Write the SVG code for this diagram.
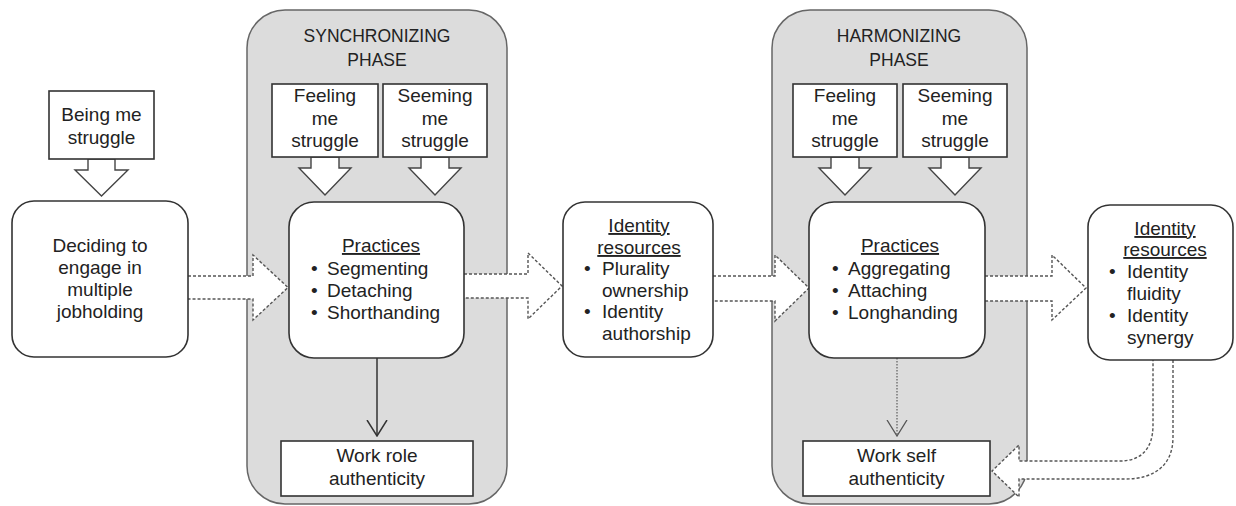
<svg xmlns="http://www.w3.org/2000/svg" width="1236" height="506" viewBox="0 0 1236 506">
<style>
text{font-family:"Liberation Sans",Arial,sans-serif;font-size:19px;fill:#222;}
.title{font-size:17.5px;text-anchor:middle;}
.c{text-anchor:middle;}
.u{text-decoration:underline;}
.panel{fill:#dcdcdc;stroke:#666;stroke-width:1.5;}
.box{fill:#fff;stroke:#333;stroke-width:1.6;}
.hollow{fill:#fff;stroke:#444;stroke-width:1.4;stroke-linejoin:miter;}
.dash{fill:#fff;stroke:#555;stroke-width:1.4;stroke-dasharray:3 2;}
.solid{fill:none;stroke:#333;stroke-width:1.5;}
.dot{fill:none;stroke:#666;stroke-width:1.3;stroke-dasharray:1.5 1.5;}
</style>
<defs>
<marker id="chev" viewBox="0 0 17 22" refX="16" refY="11" markerWidth="17" markerHeight="22" markerUnits="userSpaceOnUse" orient="auto">
<path d="M0,1 L16,11 L0,21" fill="none" stroke="#333" stroke-width="1.5"/>
</marker>
<marker id="chevg" viewBox="0 0 17 22" refX="16" refY="11" markerWidth="17" markerHeight="22" markerUnits="userSpaceOnUse" orient="auto">
<path d="M0,1 L16,11 L0,21" fill="none" stroke="#555" stroke-width="1.3"/>
</marker>
</defs>

<g id="synchronizing-phase">
<rect class="panel" x="247" y="10" width="260" height="494" rx="38"/>
<text class="title" x="377" y="42">SYNCHRONIZING</text>
<text class="title" x="377" y="66">PHASE</text>
</g>
<g id="harmonizing-phase">
<rect class="panel" x="772" y="10" width="255" height="494" rx="38"/>
<text class="title" x="899" y="42">HARMONIZING</text>
<text class="title" x="899" y="66">PHASE</text>
</g>

<g id="connectors">
<polygon class="hollow" points="88,159 88,170 75,170 101.5,196 128,170 115,170 115,159"/>
<polygon class="hollow" points="311,157 311,168 299,168 325,195 351,168 339,168 339,157"/>
<polygon class="hollow" points="421,157 421,168 409,168 435,195 461,168 449,168 449,157"/>
<polygon class="hollow" points="831,157 831,168 819,168 845,195 871,168 859,168 859,157"/>
<polygon class="hollow" points="941,157 941,168 929,168 955,195 981,168 969,168 969,157"/>
<path class="dash" d="M188,276 H253 V255 L288,287.5 L253,320 V299 H188"/>
<path class="dash" d="M464,274 H528 V253 L562,286 L528,319 V298 H464"/>
<path class="dash" d="M713,276 H775 V255 L809,288 L775,321 V301 H713"/>
<path class="dash" d="M985,276 H1052 V255 L1086,288 L1052,320 V301 H985"/>
<path class="dash" d="M1173,360 V437 C1173,465 1155,479 1125,479 H1019 V497 L992,471 L1019,445 V461 H1120 C1140,461 1153,450 1153,425 V360"/>
<line class="solid" x1="377" y1="358" x2="377" y2="436" marker-end="url(#chev)"/>
<line class="dot" x1="897" y1="358" x2="897" y2="436" marker-end="url(#chevg)"/>
</g>

<g id="being-me-struggle">
<rect class="box" x="49" y="91" width="105" height="68"/>
<text class="c" x="101.5" y="121">Being me</text>
<text class="c" x="101.5" y="144">struggle</text>
</g>
<g id="deciding">
<rect class="box" x="12" y="201" width="176" height="156" rx="22"/>
<text class="c" x="100" y="252">Deciding to</text>
<text class="c" x="100" y="274">engage in</text>
<text class="c" x="100" y="296">multiple</text>
<text class="c" x="100" y="318">jobholding</text>
</g>
<g id="sync-feeling">
<rect class="box" x="272" y="84" width="106" height="73"/>
<text class="c" x="325" y="102">Feeling</text>
<text class="c" x="325" y="125">me</text>
<text class="c" x="325" y="147">struggle</text>
</g>
<g id="sync-seeming">
<rect class="box" x="383" y="84" width="104" height="73"/>
<text class="c" x="435" y="102">Seeming</text>
<text class="c" x="435" y="125">me</text>
<text class="c" x="435" y="147">struggle</text>
</g>
<g id="sync-practices">
<rect class="box" x="289" y="202" width="175" height="156" rx="25"/>
<text class="c u" x="381" y="252">Practices</text>
<text y="275"><tspan x="311">•</tspan><tspan x="327">Segmenting</tspan></text>
<text y="297"><tspan x="311">•</tspan><tspan x="327">Detaching</tspan></text>
<text y="319"><tspan x="311">•</tspan><tspan x="327">Shorthanding</tspan></text>
</g>
<g id="work-role-authenticity">
<rect class="box" x="281" y="441" width="192" height="55"/>
<text class="c" x="377" y="462">Work role</text>
<text class="c" x="377" y="485">authenticity</text>
</g>
<g id="identity-resources-1">
<rect class="box" x="563" y="202" width="150" height="155" rx="22"/>
<text class="c u" x="639" y="232">Identity</text>
<text class="c u" x="639" y="254">resources</text>
<text y="275"><tspan x="584">•</tspan><tspan x="602">Plurality</tspan></text>
<text x="602" y="297">ownership</text>
<text y="318"><tspan x="584">•</tspan><tspan x="602">Identity</tspan></text>
<text x="602" y="340">authorship</text>
</g>
<g id="harm-feeling">
<rect class="box" x="793" y="84" width="104" height="73"/>
<text class="c" x="845" y="102">Feeling</text>
<text class="c" x="845" y="125">me</text>
<text class="c" x="845" y="147">struggle</text>
</g>
<g id="harm-seeming">
<rect class="box" x="903" y="84" width="104" height="73"/>
<text class="c" x="955" y="102">Seeming</text>
<text class="c" x="955" y="125">me</text>
<text class="c" x="955" y="147">struggle</text>
</g>
<g id="harm-practices">
<rect class="box" x="809" y="202" width="176" height="156" rx="25"/>
<text class="c u" x="900" y="252">Practices</text>
<text y="275"><tspan x="832">•</tspan><tspan x="848">Aggregating</tspan></text>
<text y="297"><tspan x="832">•</tspan><tspan x="848">Attaching</tspan></text>
<text y="319"><tspan x="832">•</tspan><tspan x="848">Longhanding</tspan></text>
</g>
<g id="work-self-authenticity">
<rect class="box" x="803" y="441" width="187" height="55"/>
<text class="c" x="896.5" y="462">Work self</text>
<text class="c" x="896.5" y="485">authenticity</text>
</g>
<g id="identity-resources-2">
<rect class="box" x="1088" y="205" width="145" height="155" rx="22"/>
<text class="c u" x="1165" y="235">Identity</text>
<text class="c u" x="1165" y="256">resources</text>
<text y="278"><tspan x="1109">•</tspan><tspan x="1127">Identity</tspan></text>
<text x="1127" y="300">fluidity</text>
<text y="322"><tspan x="1109">•</tspan><tspan x="1127">Identity</tspan></text>
<text x="1127" y="344">synergy</text>
</g>
</svg>
